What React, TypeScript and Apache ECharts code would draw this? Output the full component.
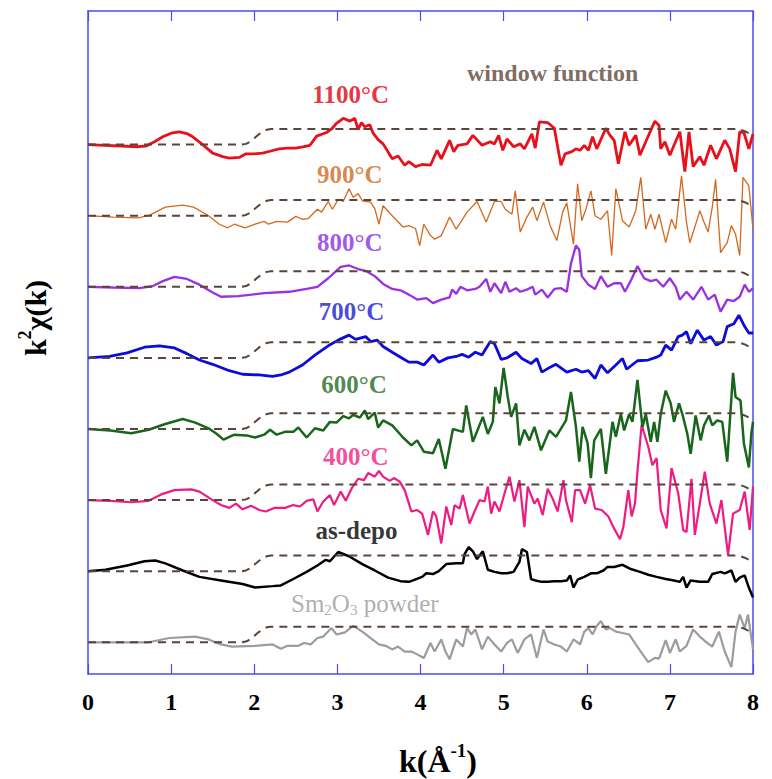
import React, { useEffect, useRef } from "react";
import * as echarts from "echarts";

// ---- data ----
const xTicks = [0, 1, 2, 3, 4, 5, 6, 7, 8];

const windowK = [0, 1.85, 1.9, 1.95, 2.0, 2.05, 2.1, 2.15, 2.2, 7.8, 7.85, 7.9, 7.95];
const windowV = [0, 0, 0.01, 0.04, 0.09, 0.14, 0.18, 0.21, 0.22, 0.22, 0.21, 0.19, 0.16];

const t1100: [number, number][] = [[0,0],[0.2,-0.01],[0.4,-0.02],[0.6,-0.03],[0.7,-0.02],[0.8,0.04],[0.9,0.11],[1.0,0.16],[1.1,0.18],[1.2,0.15],[1.26,0.11],[1.38,0],[1.5,-0.12],[1.62,-0.17],[1.7,-0.19],[1.82,-0.18],[1.9,-0.13],[2.0,-0.13],[2.1,-0.12],[2.2,-0.09],[2.3,-0.06],[2.4,-0.05],[2.5,-0.05],[2.6,-0.03],[2.67,-0.01],[2.75,0.12],[2.87,0.17],[2.93,0.22],[2.99,0.3],[3.07,0.37],[3.15,0.33],[3.21,0.37],[3.25,0.21],[3.29,0.31],[3.33,0.25],[3.39,0.28],[3.43,0.16],[3.49,0.07],[3.55,0.01],[3.66,-0.2],[3.73,-0.16],[3.81,-0.29],[3.86,-0.24],[3.94,-0.31],[4.02,-0.28],[4.12,-0.29],[4.2,-0.08],[4.25,-0.2],[4.35,0.06],[4.4,-0.1],[4.45,-0.01],[4.56,0.01],[4.63,0.13],[4.74,-0.01],[4.84,0.04],[4.89,0.01],[4.94,0.13],[4.99,-0.08],[5.04,0.08],[5.12,-0.03],[5.2,0.01],[5.25,-0.06],[5.34,0.15],[5.38,-0.05],[5.43,0.32],[5.53,0.31],[5.61,0.23],[5.69,-0.29],[5.74,-0.13],[5.82,-0.1],[5.87,-0.06],[5.92,-0.08],[5.97,-0.01],[6.02,-0.08],[6.07,0.11],[6.12,-0.06],[6.23,0.23],[6.28,0.13],[6.33,0.06],[6.38,-0.27],[6.46,0.18],[6.51,-0.01],[6.59,0.13],[6.64,-0.15],[6.71,0.04],[6.82,0.33],[6.87,0.27],[6.89,-0.06],[6.94,0.04],[7.0,-0.15],[7.05,-0.01],[7.12,0.18],[7.18,-0.38],[7.23,0.18],[7.28,-0.31],[7.36,-0.17],[7.41,-0.29],[7.49,-0.01],[7.56,-0.2],[7.66,0.06],[7.72,-0.06],[7.79,-0.38],[7.84,0.18],[7.89,0.17],[7.95,-0.06],[8.0,0.15]];

const t900: [number, number][] = [[0,0],[0.3,-0.02],[0.6,-0.03],[0.73,0],[0.93,0.12],[1.14,0.15],[1.27,0.12],[1.45,0],[1.58,-0.12],[1.68,-0.17],[1.76,-0.12],[1.89,-0.17],[2.01,-0.12],[2.12,-0.08],[2.17,-0.12],[2.27,-0.08],[2.4,-0.09],[2.5,-0.01],[2.58,-0.05],[2.65,-0.04],[2.76,0.09],[2.81,0.05],[2.89,0.2],[2.94,0.09],[3.01,0.23],[3.07,0.2],[3.14,0.38],[3.19,0.26],[3.25,0.31],[3.3,0.21],[3.4,0.19],[3.45,0.1],[3.5,-0.12],[3.55,0.14],[3.66,0],[3.79,-0.16],[3.86,-0.14],[3.94,-0.18],[3.99,-0.42],[4.04,-0.12],[4.12,-0.28],[4.17,-0.33],[4.25,-0.28],[4.35,-0.02],[4.43,-0.19],[4.56,0.05],[4.68,0.2],[4.79,-0.09],[4.89,0.2],[4.97,0.2],[5.02,0.09],[5.1,0.02],[5.14,0.35],[5.2,-0.23],[5.28,-0.02],[5.35,0.12],[5.4,-0.07],[5.48,0.19],[5.56,-0.14],[5.64,-0.35],[5.71,0.05],[5.76,0.18],[5.84,-0.4],[5.89,0.45],[5.94,-0.07],[5.99,0.09],[6.05,0.35],[6.1,0],[6.17,-0.05],[6.25,0.07],[6.3,-0.56],[6.35,0.38],[6.43,-0.07],[6.51,-0.16],[6.59,0.07],[6.65,0.54],[6.71,-0.19],[6.77,0.02],[6.82,-0.19],[6.87,0.02],[6.95,-0.38],[7.02,-0.05],[7.07,-0.19],[7.14,0.56],[7.2,-0.09],[7.24,-0.38],[7.3,-0.16],[7.36,0.07],[7.41,-0.09],[7.46,-0.23],[7.51,0.12],[7.55,0.51],[7.61,-0.52],[7.69,-0.38],[7.74,-0.14],[7.79,-0.26],[7.84,-0.56],[7.88,0.54],[7.95,0.42],[8.0,-0.19]];

const t800: [number, number][] = [[0,0],[0.3,-0.01],[0.62,-0.02],[0.78,0.01],[0.9,0.08],[1.04,0.14],[1.19,0.11],[1.34,0.03],[1.5,-0.08],[1.6,-0.14],[1.81,-0.13],[2.12,-0.09],[2.42,-0.07],[2.63,-0.03],[2.76,0],[2.89,0.12],[3.04,0.28],[3.14,0.3],[3.25,0.25],[3.35,0.22],[3.45,0.15],[3.55,0.04],[3.66,-0.03],[3.76,-0.05],[3.86,-0.11],[3.96,-0.18],[4.07,-0.16],[4.15,-0.23],[4.25,-0.18],[4.35,-0.15],[4.38,-0.04],[4.43,-0.1],[4.48,0],[4.56,-0.05],[4.66,-0.03],[4.71,0],[4.79,0.11],[4.84,-0.07],[4.89,0.05],[4.97,-0.09],[5.02,0.07],[5.07,-0.07],[5.15,-0.02],[5.2,-0.07],[5.28,-0.04],[5.35,0],[5.38,-0.11],[5.46,-0.04],[5.53,-0.15],[5.61,-0.03],[5.69,-0.02],[5.76,-0.07],[5.81,0.33],[5.87,0.58],[5.91,0.52],[5.94,0.15],[6.02,0.03],[6.1,-0.03],[6.17,0.15],[6.25,0],[6.33,0.05],[6.41,0.05],[6.46,-0.07],[6.54,0.11],[6.61,0.29],[6.69,0.12],[6.77,0.08],[6.84,0.1],[6.92,0],[7.0,0.12],[7.07,0],[7.12,-0.18],[7.2,-0.07],[7.28,-0.18],[7.38,0],[7.46,-0.18],[7.54,-0.11],[7.61,-0.35],[7.69,-0.18],[7.77,-0.2],[7.84,-0.14],[7.9,0.03],[7.95,-0.07],[8.0,-0.02]];

const t700: [number, number][] = [[0,0],[0.26,0.02],[0.47,0.07],[0.68,0.15],[0.86,0.17],[1.04,0.14],[1.19,0.06],[1.34,-0.03],[1.5,-0.09],[1.7,-0.18],[1.86,-0.23],[2.06,-0.24],[2.22,-0.26],[2.32,-0.24],[2.42,-0.2],[2.58,-0.1],[2.73,0.04],[2.89,0.17],[3.01,0.25],[3.14,0.32],[3.22,0.26],[3.34,0.3],[3.4,0.23],[3.48,0.25],[3.55,0.16],[3.66,0.08],[3.76,0.01],[3.86,-0.06],[3.96,-0.06],[4.04,-0.1],[4.15,0.04],[4.22,-0.06],[4.33,0],[4.43,0.02],[4.5,0.05],[4.58,0.01],[4.66,0.08],[4.74,0.04],[4.84,0.23],[4.89,0.2],[4.97,-0.02],[5.04,0],[5.15,0.08],[5.22,-0.01],[5.33,-0.08],[5.4,-0.01],[5.46,-0.2],[5.56,-0.13],[5.63,-0.09],[5.76,-0.2],[5.87,-0.16],[5.94,-0.2],[6.02,-0.18],[6.1,-0.29],[6.17,-0.1],[6.25,-0.21],[6.35,-0.1],[6.43,-0.01],[6.48,-0.16],[6.61,-0.04],[6.74,-0.03],[6.84,0.01],[6.89,0.04],[6.95,0.18],[7.02,0.11],[7.1,0.3],[7.15,0.32],[7.2,0.37],[7.25,0.2],[7.33,0.39],[7.41,0.25],[7.49,0.3],[7.56,0.18],[7.64,0.23],[7.69,0.44],[7.77,0.48],[7.83,0.6],[7.9,0.44],[7.95,0.35],[8.0,0.35]];

const t600: [number, number][] = [[0,0],[0.27,-0.02],[0.52,-0.06],[0.73,-0.01],[0.93,0.07],[1.14,0.14],[1.29,0.09],[1.45,0.01],[1.55,-0.07],[1.63,-0.15],[1.76,-0.08],[1.91,-0.09],[2.01,-0.12],[2.12,-0.08],[2.19,-0.01],[2.27,-0.08],[2.37,-0.04],[2.47,-0.04],[2.53,0.02],[2.63,-0.12],[2.73,0.01],[2.83,-0.02],[2.91,0.1],[2.99,0.09],[3.07,0.18],[3.14,0.15],[3.19,0.2],[3.27,0.16],[3.33,0.26],[3.37,0.14],[3.45,0.23],[3.49,0.02],[3.55,0.12],[3.66,0.05],[3.79,-0.12],[3.89,-0.23],[3.96,-0.16],[4.04,-0.32],[4.15,-0.34],[4.22,-0.14],[4.3,-0.56],[4.39,0],[4.51,-0.04],[4.55,0.33],[4.63,-0.18],[4.75,0.17],[4.81,-0.07],[4.87,0.1],[4.9,0.59],[4.95,0.36],[5.0,0.86],[5.05,0.45],[5.09,0.17],[5.15,0.36],[5.19,-0.23],[5.25,-0.01],[5.31,-0.16],[5.37,0.03],[5.45,-0.3],[5.55,-0.02],[5.63,-0.11],[5.75,0.12],[5.81,0.52],[5.87,0.03],[5.91,-0.46],[5.95,0.03],[6.01,-0.2],[6.05,-0.69],[6.09,-0.16],[6.17,0],[6.23,-0.63],[6.31,0.1],[6.35,-0.11],[6.41,0.21],[6.45,-0.02],[6.51,0.21],[6.55,0.1],[6.61,0.69],[6.67,0.03],[6.71,0.21],[6.77,-0.18],[6.81,0.1],[6.85,-0.18],[6.89,0.21],[6.95,0.54],[7.01,0.36],[7.05,0.1],[7.11,0.36],[7.15,0.21],[7.21,-0.07],[7.25,-0.35],[7.31,0.19],[7.37,-0.16],[7.41,0.05],[7.47,0.19],[7.51,0.05],[7.57,0.12],[7.63,0.1],[7.69,-0.46],[7.73,0.26],[7.76,0.79],[7.79,0.45],[7.85,0.4],[7.89,-0.2],[7.95,-0.54],[7.98,-0.07],[8.0,0.1]];

const t400: [number, number][] = [[0,0],[0.27,-0.01],[0.52,-0.03],[0.73,-0.01],[0.88,0.08],[1.04,0.14],[1.24,0.15],[1.34,0.12],[1.5,0],[1.6,-0.07],[1.7,-0.11],[1.78,-0.05],[1.86,-0.13],[1.96,-0.08],[2.06,-0.14],[2.14,-0.16],[2.24,-0.11],[2.37,-0.11],[2.47,-0.07],[2.55,-0.09],[2.63,-0.01],[2.71,0.01],[2.76,-0.16],[2.83,-0.02],[2.91,0.07],[2.96,-0.07],[3.04,0.12],[3.1,-0.01],[3.17,0.16],[3.25,0.3],[3.32,0.28],[3.37,0.38],[3.45,0.33],[3.5,0.41],[3.55,0.33],[3.63,0.27],[3.68,0.31],[3.75,0.26],[3.81,0.14],[3.89,-0.16],[3.96,-0.14],[4.02,-0.19],[4.09,-0.49],[4.15,-0.16],[4.19,-0.23],[4.25,-0.61],[4.31,-0.09],[4.37,-0.35],[4.41,-0.07],[4.47,-0.12],[4.51,0.07],[4.59,-0.33],[4.65,-0.16],[4.71,0],[4.77,-0.02],[4.81,0.19],[4.85,-0.19],[4.89,-0.02],[4.95,-0.16],[5.01,0.09],[5.07,0.33],[5.13,-0.02],[5.19,0.28],[5.25,-0.38],[5.29,0.19],[5.37,-0.05],[5.41,0.02],[5.47,-0.21],[5.53,0.16],[5.59,0.02],[5.65,-0.16],[5.72,0.28],[5.75,0],[5.82,-0.31],[5.86,0.14],[5.92,0.14],[5.98,-0.05],[6.04,0.21],[6.1,-0.12],[6.18,-0.14],[6.26,-0.23],[6.32,-0.38],[6.4,-0.55],[6.44,-0.38],[6.5,0.14],[6.54,-0.23],[6.58,-0.05],[6.61,0.4],[6.66,1.06],[6.74,0.75],[6.79,0.49],[6.84,0.59],[6.89,-0.14],[6.96,-0.4],[7.02,0.45],[7.1,0.1],[7.16,-0.42],[7.2,-0.45],[7.26,0.3],[7.3,-0.49],[7.36,-0.05],[7.42,0.4],[7.48,-0.05],[7.56,-0.33],[7.62,0],[7.7,-0.77],[7.76,-0.19],[7.84,-0.14],[7.9,0.12],[7.96,-0.42],[8.0,0.19]];

const tAsDepo: [number, number][] = [[0,0],[0.21,0.02],[0.47,0.08],[0.68,0.14],[0.81,0.15],[0.93,0.11],[1.14,0.01],[1.34,-0.08],[1.6,-0.13],[1.86,-0.18],[2.01,-0.23],[2.22,-0.21],[2.32,-0.2],[2.47,-0.11],[2.63,-0.01],[2.76,0.08],[2.86,0.16],[2.91,0.14],[3.01,0.27],[3.14,0.21],[3.3,0.1],[3.45,0.01],[3.61,-0.09],[3.76,-0.14],[3.86,-0.15],[3.91,-0.13],[4.02,-0.08],[4.07,-0.03],[4.15,-0.04],[4.22,0],[4.31,0.1],[4.43,0.11],[4.51,0.11],[4.53,0.24],[4.58,0.34],[4.63,0.28],[4.68,0.17],[4.75,0.28],[4.81,0.02],[4.89,-0.01],[4.97,-0.03],[5.04,-0.03],[5.12,-0.01],[5.19,0.13],[5.22,0.31],[5.28,0.27],[5.33,-0.11],[5.38,-0.13],[5.46,-0.15],[5.53,-0.15],[5.61,-0.14],[5.69,-0.14],[5.76,-0.13],[5.8,-0.06],[5.84,-0.23],[5.89,-0.12],[5.97,-0.08],[6.05,-0.03],[6.12,-0.03],[6.2,0.01],[6.25,0.06],[6.33,0.06],[6.43,0.09],[6.53,0.03],[6.64,-0.01],[6.74,-0.05],[6.84,-0.08],[6.95,-0.11],[7.05,-0.13],[7.12,-0.15],[7.16,-0.08],[7.2,-0.23],[7.25,-0.13],[7.36,-0.15],[7.46,-0.15],[7.51,-0.04],[7.61,-0.01],[7.66,-0.03],[7.74,0.01],[7.79,-0.15],[7.84,-0.09],[7.9,-0.06],[7.95,-0.23],[8.0,-0.37]];

const tSm2O3: [number, number][] = [[0,0],[0.73,0],[0.98,0.06],[1.29,0.08],[1.45,0.04],[1.6,-0.03],[1.73,-0.06],[2.01,-0.05],[2.22,-0.03],[2.32,-0.09],[2.4,-0.05],[2.53,-0.05],[2.6,-0.01],[2.68,-0.03],[2.76,0.06],[2.83,0.08],[2.93,0.2],[2.99,0.11],[3.09,0.14],[3.19,0.23],[3.3,0.15],[3.4,0.06],[3.5,-0.03],[3.58,-0.05],[3.66,-0.1],[3.73,-0.06],[3.81,-0.13],[3.89,-0.13],[3.96,-0.17],[4.04,-0.22],[4.12,-0.01],[4.17,-0.13],[4.25,0.04],[4.3,-0.13],[4.35,-0.24],[4.43,0.04],[4.51,-0.06],[4.56,0.2],[4.61,0.11],[4.66,0.18],[4.74,-0.1],[4.81,0.08],[4.89,-0.03],[4.97,-0.13],[5.04,-0.01],[5.1,0.04],[5.17,-0.15],[5.25,0.04],[5.33,0.11],[5.4,-0.22],[5.48,0.18],[5.53,0.01],[5.61,-0.03],[5.69,-0.06],[5.76,-0.13],[5.84,0.04],[5.92,-0.03],[5.97,0.15],[6.02,0.2],[6.07,0.11],[6.12,0.23],[6.17,0.3],[6.23,0.18],[6.28,0.2],[6.35,0.15],[6.43,0.13],[6.51,0.11],[6.59,-0.03],[6.66,-0.15],[6.74,-0.28],[6.82,-0.22],[6.87,-0.23],[6.95,0.03],[7.0,-0.15],[7.07,0.04],[7.12,-0.13],[7.2,-0.05],[7.28,0.18],[7.36,0.08],[7.43,0.01],[7.51,-0.06],[7.59,0.15],[7.66,-0.13],[7.74,-0.35],[7.79,0.15],[7.84,0.39],[7.9,0.2],[7.94,0.39],[8.0,-0.1]];

// traces bottom -> top, vertical offset = index
const traces = [tSm2O3, tAsDepo, t400, t600, t700, t800, t900, t1100];
const traceNames = ["Sm2O3 powder", "as-depo", "400°C", "600°C", "700°C", "800°C", "900°C", "1100°C"];
const traceColors = ["#9c9c9c", "#000000", "#f01a82", "#17661b", "#0b0bdc", "#9b30e0", "#d2691e", "#e8101a"];
const traceWidths = [2.2, 2.5, 2.2, 2.5, 2.8, 2.3, 1.3, 2.8];

const labelNames = ["1100°C", "900°C", "800°C", "700°C", "600°C", "400°C", "as-depo", "Sm2O3 powder", "window function"];
const labelK = [3.16, 3.15, 3.15, 3.17, 3.2, 3.22, 3.23, 3.33, 5.59];
const labelY = [7.71, 6.58, 5.62, 4.65, 3.62, 2.62, 1.57, 0.54, 8.01];
const labelColors = ["#e00010", "#cc6a1f", "#8a2be2", "#1a1ad0", "#1e6a1e", "#f0207f", "#000000", "#9a9a9a", "#5e4536"];

const FONT = "'Liberation Serif', 'Times New Roman', serif";
const AXIS_BLUE = "#4b4bf5";
const WIN_COLOR = "#5a4538";

export default function App() {
  const ref = useRef<HTMLDivElement>(null);
  useEffect(() => {
    if (!ref.current) return;
    const chart = echarts.init(ref.current, undefined, { renderer: "svg" });

    const series: any[] = [];
    traces.forEach((t, i) => {
      series.push({
        type: "line",
        name: traceNames[i],
        data: t.map(([k, v]) => [k, v + i]),
        showSymbol: false,
        symbol: "none",
        lineStyle: { color: traceColors[i], width: traceWidths[i] },
        z: 2,
      });
      series.push({
        type: "line",
        name: "window" + i,
        data: windowK.map((k, j) => [k, windowV[j] + i]),
        showSymbol: false,
        symbol: "none",
        lineStyle: { color: WIN_COLOR, width: 2, type: [8, 6] },
        z: 3,
      });
    });

    series.push({
      type: "scatter",
      symbolSize: 0,
      z: 5,
      data: labelNames.map((n, i) => ({
        value: [labelK[i], labelY[i]],
        label: {
          show: true,
          position: "inside",
          formatter: n.startsWith("Sm2O3") ? "{n|Sm}{s|2}{n|O}{s|3}{n| powder}" : n,
          color: labelColors[i],
          fontFamily: FONT,
          fontSize: i === 8 ? 24 : 25,
          fontWeight: i === 7 ? "normal" : "bold",
          rich: {
            n: { fontSize: 25, color: labelColors[i], fontFamily: FONT, lineHeight: 28, verticalAlign: "middle" },
            s: { fontSize: 15, color: labelColors[i], fontFamily: FONT, lineHeight: 14, verticalAlign: "bottom" },
          },
        },
      })),
    });

    const frame = { show: true, onZero: false, lineStyle: { color: AXIS_BLUE, width: 1.5 } };

    chart.setOption({
      animation: false,
      backgroundColor: "#ffffff",
      grid: { left: 88, right: 19, top: 11, bottom: 105, containLabel: false },
      xAxis: [
        {
          type: "value", min: 0, max: 8, interval: 1, position: "bottom",
          axisLine: frame,
          axisTick: { show: true, inside: true, length: 10, lineStyle: { color: AXIS_BLUE, width: 1.2 } },
          axisLabel: {
            show: true, margin: 16, color: "#000", fontFamily: FONT, fontWeight: "bold", fontSize: 24,
            formatter: (v: number) => (xTicks.includes(v) ? String(v) : ""),
          },
          splitLine: { show: false },
        },
        {
          type: "value", min: 0, max: 8, interval: 1, position: "top",
          axisLine: frame,
          axisTick: { show: true, inside: true, length: 10, lineStyle: { color: AXIS_BLUE, width: 1.2 } },
          axisLabel: { show: false },
          splitLine: { show: false },
        },
      ],
      yAxis: [
        {
          type: "value", min: -0.446, max: 8.879, position: "left",
          axisLine: frame,
          axisTick: { show: false },
          axisLabel: { show: false },
          splitLine: { show: false },
        },
        {
          type: "value", min: -0.446, max: 8.879, position: "right",
          axisLine: frame,
          axisTick: { show: false },
          axisLabel: { show: false },
          splitLine: { show: false },
        },
      ],
      graphic: [
        {
          type: "text",
          x: 33, y: 318, rotation: Math.PI / 2,
          style: {
            text: "{b|k}{p|2}{b|χ(k)}",
            align: "center", verticalAlign: "middle",
            rich: {
              b: { fontFamily: FONT, fontWeight: "bold", fontSize: 30, lineHeight: 34, fill: "#000", verticalAlign: "bottom" },
              p: { fontFamily: FONT, fontWeight: "bold", fontSize: 18, lineHeight: 34, fill: "#000", verticalAlign: "top" },
            },
          },
        },
        {
          type: "text",
          x: 438, y: 759,
          style: {
            text: "{b|k(Å}{p|-1}{b|)}",
            align: "center", verticalAlign: "middle",
            rich: {
              b: { fontFamily: FONT, fontWeight: "bold", fontSize: 32, lineHeight: 36, fill: "#000", verticalAlign: "bottom" },
              p: { fontFamily: FONT, fontWeight: "bold", fontSize: 19, lineHeight: 36, fill: "#000", verticalAlign: "top" },
            },
          },
        },
      ],
      series,
    });
    return () => chart.dispose();
  }, []);

  return (
    <div
      ref={ref}
      style={{ position: "fixed", left: 0, top: 0, width: 772, height: 779, background: "#fff" }}
    />
  );
}
